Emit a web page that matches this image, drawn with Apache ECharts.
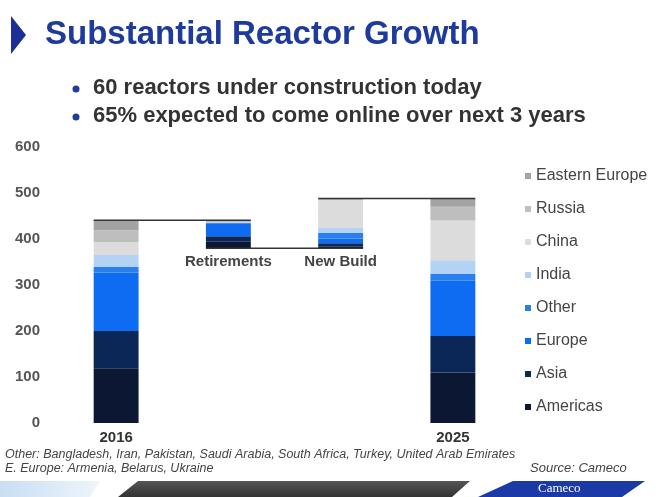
<!DOCTYPE html>
<html><head><meta charset="utf-8">
<script src="https://cdn.jsdelivr.net/npm/echarts@6/dist/echarts.min.js"></script>
<style>html,body{margin:0;padding:0;background:#fff}#c{width:661px;height:497px}</style>
</head><body><div id="c"></div>
<script>
const categories = ['2016', 'Retirements', 'New Build', '2025'];
const americas      = [119, 14,  3, 110];
const asia          = [ 81, 12,  8,  79];
const europe        = [127, 28, 10, 120];
const other         = [ 12,  1, 12,  15];
const india         = [ 26,  1, 11,  30];
const china         = [ 28,  0, 60,  86];
const russia        = [ 26,  4,  4,  30];
const easternEurope = [ 22,  1,  0,  18];
const yTicks = [0, 100, 200, 300, 400, 500, 600];

const FONT = 'Liberation Sans, Arial, sans-serif';
const groups = [
  { name: 'Americas', data: americas, color: '#0b1733' },
  { name: 'Asia', data: asia, color: '#0b2758' },
  { name: 'Europe', data: europe, color: '#0d6cf2' },
  { name: 'Other', data: other, color: '#2a7ff0' },
  { name: 'India', data: india, color: '#b3d3f5' },
  { name: 'China', data: china, color: '#dcdcdc' },
  { name: 'Russia', data: russia, color: '#bebebe' },
  { name: 'Eastern Europe', data: easternEurope, color: '#a3a3a3' }
];
const colTotal = i => groups.reduce((s, g) => s + g.data[i], 0);
const total2016 = colTotal(0);
const floorLevel = total2016 - colTotal(1);
const base = [0, floorLevel, floorLevel, 0];
const connectors = [
  [0, 1, total2016],
  [1, 2, floorLevel],
  [2, 3, floorLevel + colTotal(2)]
];
const BAR_FRAC = 0.4;

const series = [{
  name: 'base', type: 'bar', stack: 's', data: base, barWidth: '40%',
  itemStyle: { color: 'transparent' }, silent: true,
  label: {
    show: true, position: 'insideTop', distance: 6,
    formatter: p => p.value > 0 ? p.name : '',
    fontFamily: FONT, fontSize: 15, fontWeight: 'bold', color: '#444'
  }
}];
groups.forEach(g => series.push({
  name: g.name, type: 'bar', stack: 's', data: g.data, barWidth: '40%',
  itemStyle: { color: g.color }
}));
series.push({
  type: 'custom', data: connectors, z: 10, silent: true,
  renderItem: (params, api) => {
    const p0 = api.coord([api.value(0), api.value(2)]);
    const p1 = api.coord([api.value(1), api.value(2)]);
    const half = api.size([1, 0])[0] * BAR_FRAC / 2;
    return {
      type: 'line',
      shape: { x1: p0[0] - half, y1: p0[1], x2: p1[0] + half, y2: p1[1] },
      style: { stroke: '#333', lineWidth: 1.5 }
    };
  }
});

const chart = echarts.init(document.getElementById('c'), null, { renderer: 'canvas' });
chart.setOption({
  backgroundColor: '#ffffff',
  animation: false,
  textStyle: { fontFamily: FONT },
  grid: { left: 60, right: 152, top: 147, bottom: 74 },
  legend: {
    orient: 'vertical', left: 520, top: 162,
    data: groups.map(g => g.name).reverse(),
    icon: 'rect', itemWidth: 6, itemHeight: 6, itemGap: 15,
    textStyle: { fontFamily: FONT, fontSize: 16, color: '#444', lineHeight: 18 }
  },
  xAxis: {
    type: 'category', data: categories,
    axisLine: { show: false }, axisTick: { show: false },
    axisLabel: {
      margin: 7, fontFamily: FONT, fontSize: 15, fontWeight: 'bold', color: '#333',
      formatter: (v, i) => (i === 0 || i === categories.length - 1) ? v : ''
    }
  },
  yAxis: {
    type: 'value', min: yTicks[0], max: yTicks[yTicks.length - 1], interval: yTicks[1] - yTicks[0],
    axisLine: { show: false }, axisTick: { show: false }, splitLine: { show: false },
    axisLabel: { margin: 20, fontFamily: FONT, fontSize: 15, fontWeight: 'bold', color: '#555' }
  },
  series: series,
  graphic: [
    { type: 'polygon', shape: { points: [[11, 16], [26, 35], [11, 54]] }, style: { fill: '#1b2f96' } },
    { type: 'text', left: 45, top: 18, style: { text: 'Substantial Reactor Growth', font: 'bold 33px ' + FONT, fill: '#1d3a9c' } },
    { type: 'circle', shape: { cx: 76, cy: 89, r: 3.5 }, style: { fill: '#1d3c9e' } },
    { type: 'circle', shape: { cx: 76, cy: 117, r: 3.5 }, style: { fill: '#1d3c9e' } },
    { type: 'text', left: 93, top: 77, style: { text: '60 reactors under construction today', font: 'bold 22px ' + FONT, fill: '#333' } },
    { type: 'text', left: 93, top: 105, style: { text: '65% expected to come online over next 3 years', font: 'bold 22px ' + FONT, fill: '#333' } },
    { type: 'text', left: 5, top: 448, style: { text: 'Other: Bangladesh, Iran, Pakistan, Saudi Arabia, South Africa, Turkey, United Arab Emirates', font: 'italic 12.5px ' + FONT, fill: '#444' } },
    { type: 'text', left: 5, top: 462, style: { text: 'E. Europe: Armenia, Belarus, Ukraine', font: 'italic 12.5px ' + FONT, fill: '#444' } },
    { type: 'text', left: 530, top: 462, style: { text: 'Source: Cameco', font: 'italic 13px ' + FONT, fill: '#444' } },
    { type: 'polygon', shape: { points: [[0, 481], [100, 481], [90, 497], [0, 497]] },
      style: { fill: new echarts.graphic.LinearGradient(0, 0, 1, 0, [{ offset: 0, color: '#c8def3' }, { offset: 1, color: '#eef5fc' }]) } },
    { type: 'polygon', shape: { points: [[138, 481], [470, 481], [452, 497], [118, 497]] },
      style: { fill: new echarts.graphic.LinearGradient(0, 0, 0, 1, [{ offset: 0, color: '#555' }, { offset: 1, color: '#333' }]) } },
    { type: 'polygon', shape: { points: [[513, 481], [645, 481], [622, 497], [478, 497]] }, style: { fill: '#1b3aa6' } },
    { type: 'text', left: 538, top: 482, style: { text: 'Cameco', font: '13px Liberation Serif, serif', fill: '#fff' } }
  ]
});
</script></body></html>
